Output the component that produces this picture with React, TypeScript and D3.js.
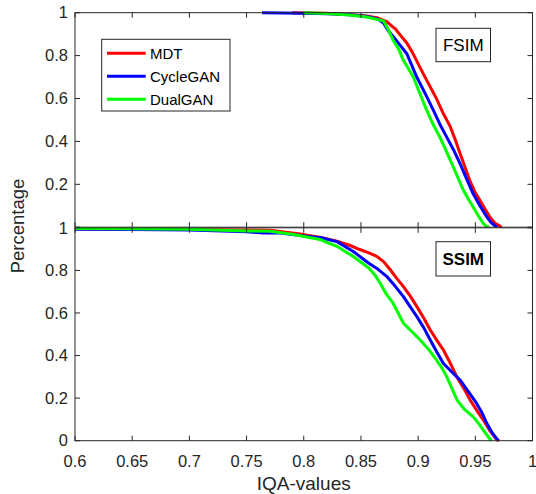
import React, { useEffect, useRef } from "react";
import * as d3 from "d3";

const seriesNames = ["MDT", "CycleGAN", "DualGAN"];
const seriesColors = ["#ff0000", "#0000ff", "#00ff00"];
const xTicks = [0.6, 0.65, 0.7, 0.75, 0.8, 0.85, 0.9, 0.95, 1];
const yTicks = [0, 0.2, 0.4, 0.6, 0.8, 1];

// FSIM panel (top)
const mdtFsimX = [0.79, 0.82, 0.84, 0.855, 0.865, 0.872, 0.88, 0.886, 0.89, 0.895, 0.9016, 0.908, 0.916, 0.922, 0.928, 0.933, 0.9366, 0.941, 0.945, 0.95, 0.954, 0.959, 0.963, 0.967, 0.9716, 0.973];
const mdtFsimY = [1, 0.997, 0.992, 0.985, 0.975, 0.96, 0.925, 0.885, 0.86, 0.815, 0.745, 0.68, 0.6, 0.53, 0.47, 0.4, 0.345, 0.28, 0.22, 0.16, 0.125, 0.08, 0.045, 0.02, 0.005, 0];
const cycFsimX = [0.7635, 0.8, 0.82, 0.84, 0.855, 0.865, 0.87, 0.874, 0.878, 0.884, 0.89, 0.894, 0.8988, 0.906, 0.9133, 0.919, 0.925, 0.931, 0.9366, 0.942, 0.948, 0.954, 0.96, 0.964, 0.967, 0.969];
const cycFsimY = [1, 0.998, 0.995, 0.99, 0.982, 0.97, 0.95, 0.915, 0.89, 0.85, 0.81, 0.76, 0.7, 0.625, 0.546, 0.48, 0.42, 0.36, 0.297, 0.23, 0.157, 0.1, 0.048, 0.02, 0.008, 0];
const dualFsimX = [0.8, 0.82, 0.84, 0.855, 0.8696, 0.874, 0.878, 0.883, 0.887, 0.8958, 0.901, 0.9075, 0.913, 0.919, 0.925, 0.9307, 0.9395, 0.944, 0.948, 0.953, 0.957, 0.96, 0.962];
const dualFsimY = [1, 0.996, 0.989, 0.98, 0.962, 0.92, 0.873, 0.83, 0.779, 0.7, 0.63, 0.546, 0.48, 0.42, 0.35, 0.281, 0.173, 0.13, 0.095, 0.05, 0.017, 0.003, 0];

// SSIM panel (bottom)
const mdtSsimX = [0.6, 0.65, 0.7, 0.75, 0.7705, 0.8, 0.815, 0.829, 0.84, 0.849, 0.857, 0.8638, 0.87, 0.8755, 0.881, 0.887, 0.893, 0.8988, 0.905, 0.9105, 0.916, 0.922, 0.928, 0.9337, 0.94, 0.9454, 0.951, 0.957, 0.963, 0.9687, 0.971];
const mdtSsimY = [0.995, 0.994, 0.992, 0.99, 0.988, 0.968, 0.955, 0.937, 0.918, 0.898, 0.882, 0.866, 0.84, 0.804, 0.765, 0.725, 0.68, 0.631, 0.575, 0.521, 0.475, 0.427, 0.365, 0.301, 0.245, 0.192, 0.145, 0.097, 0.045, 0.005, 0];
const cycSsimX = [0.6, 0.65, 0.7, 0.75, 0.765, 0.78, 0.8, 0.815, 0.829, 0.843, 0.8566, 0.865, 0.8725, 0.88, 0.887, 0.893, 0.8988, 0.905, 0.9105, 0.916, 0.922, 0.929, 0.9366, 0.944, 0.951, 0.956, 0.96, 0.965, 0.97];
const cycSsimY = [0.993, 0.992, 0.99, 0.982, 0.975, 0.975, 0.962, 0.953, 0.935, 0.89, 0.835, 0.805, 0.772, 0.725, 0.678, 0.63, 0.584, 0.53, 0.474, 0.42, 0.364, 0.325, 0.286, 0.23, 0.176, 0.13, 0.082, 0.035, 0];
const dualSsimX = [0.6, 0.65, 0.7, 0.75, 0.7705, 0.79, 0.8142, 0.83, 0.843, 0.8566, 0.862, 0.8667, 0.872, 0.878, 0.883, 0.887, 0.894, 0.9016, 0.909, 0.916, 0.921, 0.925, 0.93, 0.934, 0.94, 0.948, 0.953, 0.957, 0.961, 0.964];
const dualSsimY = [0.997, 0.996, 0.993, 0.985, 0.984, 0.97, 0.945, 0.91, 0.866, 0.812, 0.78, 0.741, 0.69, 0.647, 0.595, 0.553, 0.515, 0.474, 0.43, 0.38, 0.34, 0.301, 0.24, 0.192, 0.15, 0.113, 0.08, 0.05, 0.02, 0];

const panels = [
  { label: "FSIM", bold: false, top: 12.7, bottom: 227.2, xs: [mdtFsimX, cycFsimX, dualFsimX], ys: [mdtFsimY, cycFsimY, dualFsimY] },
  { label: "SSIM", bold: true, top: 227.8, bottom: 440.7, xs: [mdtSsimX, cycSsimX, dualSsimX], ys: [mdtSsimY, cycSsimY, dualSsimY] },
];

const W = 536;
const H = 494;
const left = 75;
const right = 532.5;
const axisColor = "#262626";
const font = "'Liberation Sans', Arial, Helvetica, sans-serif";

const App = () => {
  const ref = useRef<SVGSVGElement>(null);

  useEffect(() => {
    const svg = d3.select(ref.current);
    svg.selectAll("*").remove();

    const x = d3.scaleLinear().domain([0.6, 1]).range([left, right]);

    panels.forEach((p, pi) => {
      const y = d3.scaleLinear().domain([0, 1]).range([p.bottom, p.top]);
      const g = svg.append("g");

      g.append("rect")
        .attr("x", left).attr("y", p.top)
        .attr("width", right - left).attr("height", p.bottom - p.top)
        .attr("fill", "white");

      const line = d3.line<number>()
        .x((d, i) => x(d))
        .curve(d3.curveLinear);

      p.xs.forEach((xs, si) => {
        const ys = p.ys[si];
        const ln = d3.line<number>()
          .x((d) => x(d))
          .y((d, i) => y(ys[i]));
        g.append("path")
          .attr("d", ln(xs))
          .attr("fill", "none")
          .attr("stroke", seriesColors[si])
          .attr("stroke-width", 3)
          .attr("stroke-linejoin", "round");
      });

      // box
      g.append("rect")
        .attr("x", left).attr("y", p.top)
        .attr("width", right - left).attr("height", p.bottom - p.top)
        .attr("fill", "none")
        .attr("stroke", axisColor)
        .attr("stroke-width", 1);

      // x ticks (bottom and top, inward)
      const tl = 5;
      xTicks.forEach((t) => {
        g.append("line")
          .attr("x1", x(t)).attr("x2", x(t))
          .attr("y1", p.bottom).attr("y2", p.bottom - tl)
          .attr("stroke", axisColor);
        g.append("line")
          .attr("x1", x(t)).attr("x2", x(t))
          .attr("y1", p.top).attr("y2", p.top + tl)
          .attr("stroke", axisColor);
      });
      yTicks.forEach((t) => {
        g.append("line")
          .attr("x1", left).attr("x2", left + tl)
          .attr("y1", y(t)).attr("y2", y(t))
          .attr("stroke", axisColor);
        g.append("line")
          .attr("x1", right).attr("x2", right - tl)
          .attr("y1", y(t)).attr("y2", y(t))
          .attr("stroke", axisColor);
        // top panel has no "0" label (overlaps bottom panel's "1")
        if (pi === 0 && t === 0) return;
        g.append("text")
          .attr("x", left - 7)
          .attr("y", y(t))
          .attr("dy", "0.35em")
          .attr("text-anchor", "end")
          .attr("font-family", font)
          .attr("font-size", 16.5)
          .attr("fill", axisColor)
          .text(d3.format("")(t));
      });

      if (pi === 1) {
        xTicks.forEach((t) => {
          g.append("text")
            .attr("x", x(t))
            .attr("y", p.bottom + 26)
            .attr("text-anchor", "middle")
            .attr("font-family", font)
            .attr("font-size", 16.5)
            .attr("fill", axisColor)
            .text(d3.format("")(t));
        });
      }

      // panel label box
      const lb = g.append("g");
      const bx = 436, bw = 54.5;
      const by = pi === 0 ? 28.3 : 241.7;
      const bh = pi === 0 ? 33.4 : 34.3;
      lb.append("rect")
        .attr("x", bx).attr("y", by).attr("width", bw).attr("height", bh)
        .attr("fill", "white").attr("stroke", axisColor).attr("stroke-width", 1);
      lb.append("text")
        .attr("x", bx + bw / 2).attr("y", by + bh / 2)
        .attr("dy", "0.36em")
        .attr("text-anchor", "middle")
        .attr("font-family", font)
        .attr("font-size", 17)
        .attr("font-weight", p.bold ? "bold" : "normal")
        .attr("fill", "black")
        .text(p.label);
    });

    // legend
    const lg = svg.append("g");
    lg.append("rect")
      .attr("x", 101.7).attr("y", 39.3).attr("width", 128.3).attr("height", 71.7)
      .attr("fill", "white").attr("stroke", axisColor).attr("stroke-width", 1);
    const ly = d3.scalePoint<string>().domain(seriesNames).range([53.3, 99.3]);
    seriesNames.forEach((n, i) => {
      lg.append("line")
        .attr("x1", 107).attr("x2", 145.7)
        .attr("y1", ly(n)!).attr("y2", ly(n)!)
        .attr("stroke", seriesColors[i]).attr("stroke-width", 3);
      lg.append("text")
        .attr("x", 150).attr("y", ly(n)!)
        .attr("dy", "0.36em")
        .attr("font-family", font)
        .attr("font-size", 15)
        .attr("fill", "black")
        .text(n);
    });

    // axis labels
    svg.append("text")
      .attr("transform", `translate(24,226) rotate(-90)`)
      .attr("text-anchor", "middle")
      .attr("font-family", font)
      .attr("font-size", 18.5)
      .attr("fill", axisColor)
      .text("Percentage");
    svg.append("text")
      .attr("x", (left + right) / 2)
      .attr("y", 490)
      .attr("text-anchor", "middle")
      .attr("font-family", font)
      .attr("font-size", 19)
      .attr("fill", axisColor)
      .text("IQA-values");
  }, []);

  return (
    <svg ref={ref} width={W} height={H} style={{ position: "absolute", left: 0, top: 0, background: "white" }}></svg>
  );
};

export default App;
